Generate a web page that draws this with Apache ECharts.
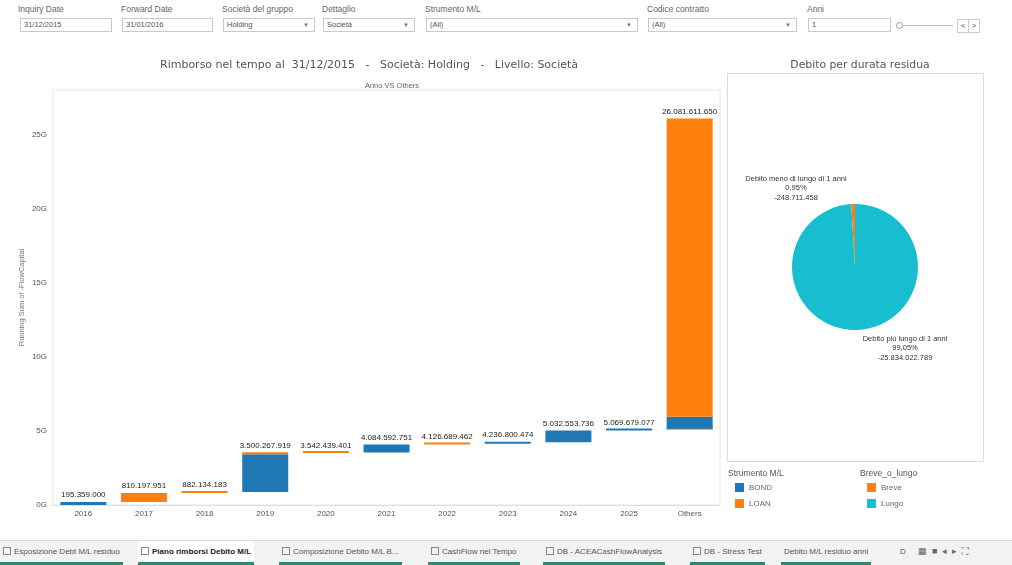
<!DOCTYPE html>
<html><head><meta charset="utf-8">
<script src="https://cdn.jsdelivr.net/npm/echarts@6/dist/echarts.min.js"></script>
<style>
html,body{margin:0;padding:0;background:#fff;width:1012px;height:565px;overflow:hidden;font-family:'Liberation Sans',Arial,sans-serif;}
#chart{position:absolute;left:0;top:0;width:1012px;height:565px;}
.flt{position:absolute;top:4px;font-size:8.5px;color:#666;}
.box{position:absolute;top:18px;height:14px;border:1px solid #c9c9c9;font-size:7.5px;color:#555;line-height:12px;padding-left:3px;box-sizing:border-box;background:#fff;}
.arr{position:absolute;right:5px;top:0;font-size:6px;color:#777;}
#tabs{position:absolute;left:0;top:540px;width:1012px;height:25px;background:#f2f2f2;border-top:1px solid #dcdcdc;}
.tab{position:absolute;top:0;height:21px;line-height:21px;font-size:8px;color:#555;white-space:nowrap;border-bottom:3px solid #2a8a6e;padding:0 3px;box-sizing:content-box;}
.tab.act{background:#fff;color:#222;font-weight:bold;}
.ico{display:inline-block;width:6px;height:6px;border:1px solid #888;margin-right:3px;vertical-align:-1px;}
</style></head>
<body>
<div class="flt" style="left:18px">Inquiry Date</div>
<div class="box" style="left:20px;width:92px">31/12/2015</div>
<div class="flt" style="left:121px">Forward Date</div>
<div class="box" style="left:122px;width:91px">31/01/2016</div>
<div class="flt" style="left:222px">Società del gruppo</div>
<div class="box" style="left:223px;width:92px">Holding<span class="arr">▼</span></div>
<div class="flt" style="left:322px">Dettaglio</div>
<div class="box" style="left:323px;width:92px">Società<span class="arr">▼</span></div>
<div class="flt" style="left:425px">Strumento M/L</div>
<div class="box" style="left:426px;width:212px">(All)<span class="arr">▼</span></div>
<div class="flt" style="left:647px">Codice contratto</div>
<div class="box" style="left:648px;width:149px">(All)<span class="arr">▼</span></div>
<div class="flt" style="left:807px">Anni</div>
<div class="box" style="left:808px;width:83px">1</div>
<div style="position:absolute;left:897px;top:25px;width:56px;height:1px;background:#bbb"></div>
<div style="position:absolute;left:896px;top:22px;width:5px;height:5px;border:1px solid #999;border-radius:50%;background:#fff"></div>
<div style="position:absolute;left:957px;top:19px;width:10px;height:12px;border:1px solid #ccc;font-size:8px;line-height:12px;text-align:center;color:#555">&lt;</div>
<div style="position:absolute;left:968px;top:19px;width:10px;height:12px;border:1px solid #ccc;font-size:8px;line-height:12px;text-align:center;color:#555">&gt;</div>
<div id="chart"></div>
<div id="tabs">
<div class="tab" style="left:0px"><span class="ico"></span>Esposizione Debt M/L residuo</div>
<div class="tab act" style="left:138px"><span class="ico"></span>Piano rimborsi Debito M/L</div>
<div class="tab" style="left:279px"><span class="ico"></span>Composizione Debito M/L B...</div>
<div class="tab" style="left:428px"><span class="ico"></span>CashFlow nel Tempo</div>
<div class="tab" style="left:543px"><span class="ico"></span>DB - ACEACashFlowAnalysis</div>
<div class="tab" style="left:690px"><span class="ico"></span>DB - Stress Test</div>
<div class="tab" style="left:781px">Debito M/L residuo anni</div>
<div class="tab" style="left:897px;border-bottom-color:transparent">D</div>
<div style="position:absolute;left:918px;top:5px;font-size:9px;color:#666;letter-spacing:5px">▦■◂▸⛶</div>
</div>
<script>
// ---- data ----
const categories = ['2016','2017','2018','2019','2020','2021','2022','2023','2024','2025','Others'];
const runningSum = [195359000, 810197951, 882134183, 3500267919, 3542439401, 4084592751, 4126689462, 4236800474, 5032553736, 5069679077, 26081611650];
const bondAmount = [195359000, 0, 0, 2540000000, 0, 542153350, 0, 110111012, 795753262, 37125341, 800000000];
const loanBelowBond = [0, 0, 0, 0, 0, 0, 0, 0, 0, 0, 80000000];
const pieNames = ['Lungo', 'Breve'];
const pieDescriptions = ['Debito più lungo di 1 anni', 'Debito meno di lungo di 1 anni'];
const pieValues = [-25834022789, -248711458];
const barLegend = ['BOND', 'LOAN'];
const pieLegend = ['Breve', 'Lungo'];

// ---- derived ----
const base = runningSum.map((v, i) => i === 0 ? 0 : runningSum[i - 1]);
const loanAbove = runningSum.map((v, i) => v - base[i] - bondAmount[i] - loanBelowBond[i]);
const nz = a => a.map(v => v > 0 ? v : null);
const fmt = n => (n < 0 ? '-' : '') + String(Math.abs(Math.round(n))).replace(/\B(?=(\d{3})+(?!\d))/g, '.');

const BLUE = '#1f77b4', ORANGE = '#ff7f0e', TEAL = '#17becf';
const chart = echarts.init(document.getElementById('chart'));
const labelFont = { fontFamily: 'Liberation Sans', fontSize: 8, color: '#222' };

chart.setOption({
  animation: false,
  textStyle: { fontFamily: 'Liberation Sans' },
  title: [
    { text: 'Rimborso nel tempo al  31/12/2015   -   Società: Holding   -   Livello: Società', left: 364, top: 55, textAlign: 'center',
      textStyle: { fontFamily: 'DejaVu Sans', fontSize: 11, fontWeight: 'normal', color: '#555' } },
    { text: 'Anno VS Others', left: 387, top: 77, textAlign: 'center',
      textStyle: { fontFamily: 'Liberation Sans', fontSize: 7.5, fontWeight: 'normal', color: '#666' } },
    { text: 'Debito per durata residua', left: 855, top: 55, textAlign: 'center',
      textStyle: { fontFamily: 'DejaVu Sans', fontSize: 10.8, fontWeight: 'normal', color: '#555' } }
  ],
  grid: { left: 53, right: 292, top: 90, bottom: 60, show: true, borderColor: '#e6e6e6', borderWidth: 1 },
  xAxis: {
    type: 'category', data: categories,
    axisLine: { lineStyle: { color: '#dedede' } }, axisTick: { show: false },
    axisLabel: { fontSize: 8, color: '#555', margin: 5 }
  },
  yAxis: {
    type: 'value', min: 0, max: 28e9, interval: 5e9,
    name: 'Running Sum of -FlowCapital', nameLocation: 'middle', nameGap: 27, nameRotate: 90, nameMoveOverlap: false,
    nameTextStyle: { fontSize: 7.5, color: '#777' },
    axisLine: { show: false }, axisTick: { show: false }, splitLine: { show: false },
    axisLabel: { fontSize: 8, color: '#555', margin: 6, showMaxLabel: false,
      formatter: v => (v % 5e9 === 0 ? (v / 1e9) + 'G' : '') }
  },
  legend: [
    { data: barLegend, orient: 'vertical', left: 730, top: 478, itemWidth: 9, itemHeight: 9, itemGap: 7, icon: 'rect',
      textStyle: { fontSize: 8, color: '#666' }, selectedMode: false },
    { data: pieLegend, orient: 'vertical', left: 862, top: 478, itemWidth: 9, itemHeight: 9, itemGap: 7, icon: 'rect',
      textStyle: { fontSize: 8, color: '#666' }, selectedMode: false }
  ],
  graphic: [
    { type: 'rect', shape: { x: 727.5, y: 73.5, width: 256, height: 388 }, style: { fill: 'none', stroke: '#dcdcdc', lineWidth: 1 }, silent: true },
    { type: 'text', x: 728, y: 469, style: { text: 'Strumento M/L', fontSize: 8.5, fill: '#555', fontFamily: 'Liberation Sans' } },
    { type: 'text', x: 860, y: 469, style: { text: 'Breve_o_lungo', fontSize: 8.5, fill: '#555', fontFamily: 'Liberation Sans' } }
  ],
  series: [
    { type: 'bar', name: 'base', stack: 'w', data: base, barWidth: 46, silent: true,
      itemStyle: { color: 'rgba(0,0,0,0)' } },
    { type: 'bar', name: 'LOAN', stack: 'w', data: nz(loanBelowBond), barWidth: 46, barMinHeight: 2,
      itemStyle: { color: ORANGE } },
    { type: 'bar', name: 'BOND', stack: 'w', data: nz(bondAmount), barWidth: 46, barMinHeight: 2,
      itemStyle: { color: BLUE } },
    { type: 'bar', name: 'LOAN', stack: 'w', data: nz(loanAbove), barWidth: 46, barMinHeight: 2,
      itemStyle: { color: ORANGE } },
    { type: 'bar', name: 'total', stack: 'w', data: runningSum.map(() => 0), barWidth: 46, silent: true,
      itemStyle: { color: 'rgba(0,0,0,0)' },
      label: { show: true, position: 'top', distance: 3, ...labelFont,
        formatter: p => fmt(runningSum[p.dataIndex]) } },
    { type: 'pie', center: [855, 267], radius: 63, startAngle: 90, clockwise: true,
      data: pieNames.map((n, i) => ({ name: n, value: Math.abs(pieValues[i]),
        itemStyle: { color: n === 'Breve' ? ORANGE : TEAL } })),
      labelLine: { show: false },
      label: { show: true, position: 'outside', fontSize: 7.5, color: '#333', lineHeight: 9.5, align: 'center',
        formatter: p => pieDescriptions[p.dataIndex] + '\n' + p.percent.toFixed(2).replace('.', ',') + '%\n' + fmt(pieValues[p.dataIndex]) },
      labelLayout: p => p.dataIndex === 1
        ? { x: 796, y: 174, align: 'center', verticalAlign: 'top' }
        : { x: 905, y: 334, align: 'center', verticalAlign: 'top' }
    }
  ]
});
</script>
</body></html>
